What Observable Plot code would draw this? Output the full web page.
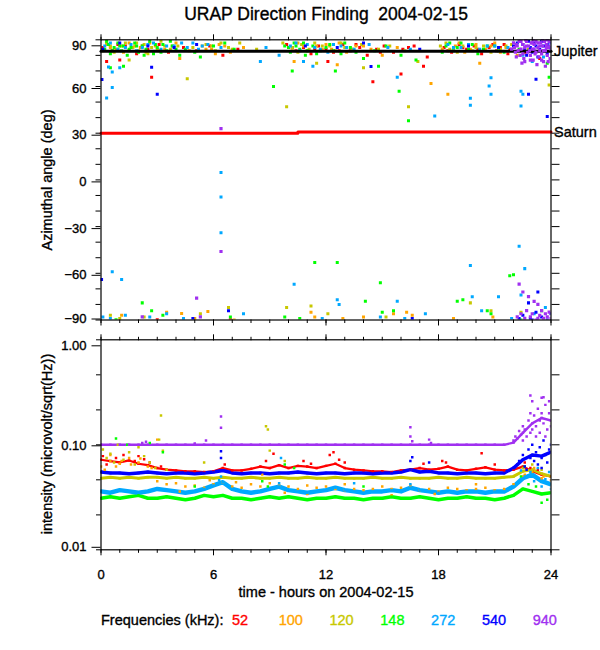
<!DOCTYPE html>
<html><head><meta charset="utf-8">
<script src="https://cdn.jsdelivr.net/npm/d3@7"></script>
<script src="https://cdn.jsdelivr.net/npm/@observablehq/plot@0.6"></script>
<style>
html,body{margin:0;padding:0;background:#fff;}
#wrap{position:relative;width:600px;height:650px;background:#fff;overflow:hidden;}
#wrap svg{position:absolute;left:0;top:0;}
#wrap svg text{stroke:currentColor;stroke-width:0.35px;}
</style></head><body><div id="wrap"></div>
<script>
// ---------- data ----------
const freqs = ["52","100","120","148","272","540","940"];
const freqColors = ["#ff0000","#ffa500","#c8c800","#00ff00","#00a8ff","#0000ff","#a030f0"];

const hours = [0,0.5,1,1.5,2,2.5,3,3.5,4,4.5,5,5.5,6,6.5,7,7.5,8,8.5,9,9.5,10,10.5,11,11.5,12,12.5,13,13.5,14,14.5,15,15.5,16,16.5,17,17.5,18,18.5,19,19.5,20,20.5,21,21.5,22,22.5,23,23.5,24];
const xMajor = [0,6,12,18,24];
const xMinor = [0,1,2,3,4,5,6,7,8,9,10,11,12,13,14,15,16,17,18,19,20,21,22,23,24];
const azMajor = [-90,-60,-30,0,30,60,90];
const azMinor = [-90,-80,-70,-60,-50,-40,-30,-20,-10,0,10,20,30,40,50,60,70,80,90];
const intTicks = [0.01,0.0215,0.0464,0.1,0.215,0.464,1];

// Jupiter / Saturn reference directions
const planets = ["Jupiter","Saturn"];
const jupiterT = [0,24], jupiterA = [82.7,82.7];
const saturnT = [0,10.5,10.5,24], saturnA = [29.9,29.9,30.8,30.8];

// intensity (microvolt/sqrt(Hz)) sampled every half hour
const int52 = [0.072,0.070,0.068,0.071,0.066,0.064,0.060,0.058,0.057,0.056,
 0.056,0.055,0.056,0.060,0.057,0.057,0.059,0.062,0.060,0.064,
 0.060,0.063,0.062,0.060,0.063,0.066,0.060,0.058,0.057,0.056,
 0.056,0.055,0.057,0.058,0.060,0.058,0.059,0.062,0.058,0.057,
 0.059,0.061,0.058,0.057,0.058,0.062,0.056,0.052,0.050];
const int100 = [0.062,0.070,0.066,0.075,0.068,0.062,0.045,0.042,0.043,0.040,
 0.041,0.039,0.042,0.044,0.040,0.039,0.042,0.040,0.043,0.041,
 0.040,0.038,0.041,0.039,0.040,0.038,0.037,0.038,0.037,0.038,
 0.040,0.038,0.039,0.041,0.037,0.038,0.036,0.039,0.038,0.037,
 0.038,0.039,0.037,0.038,0.042,0.050,0.055,0.048,0.046];
const int120 = [0.048,0.049,0.048,0.049,0.048,0.049,0.049,0.048,0.049,0.048,
 0.048,0.049,0.048,0.049,0.048,0.048,0.049,0.048,0.048,0.049,
 0.048,0.048,0.049,0.048,0.048,0.049,0.048,0.048,0.048,0.049,
 0.048,0.048,0.049,0.048,0.048,0.048,0.049,0.048,0.048,0.049,
 0.048,0.048,0.048,0.049,0.050,0.056,0.058,0.053,0.050];
const int148 = [0.031,0.032,0.031,0.032,0.033,0.031,0.031,0.032,0.031,0.030,
 0.031,0.033,0.032,0.033,0.031,0.031,0.030,0.031,0.032,0.031,
 0.032,0.031,0.030,0.031,0.031,0.032,0.031,0.031,0.030,0.031,
 0.031,0.032,0.031,0.031,0.032,0.031,0.030,0.031,0.031,0.032,
 0.031,0.031,0.030,0.031,0.033,0.038,0.036,0.034,0.035];
const int272 = [0.036,0.035,0.037,0.036,0.035,0.036,0.038,0.037,0.036,0.035,
 0.036,0.038,0.041,0.044,0.038,0.036,0.035,0.036,0.038,0.040,
 0.037,0.036,0.035,0.036,0.037,0.039,0.037,0.036,0.035,0.036,
 0.036,0.037,0.036,0.039,0.037,0.036,0.035,0.036,0.035,0.036,
 0.036,0.035,0.036,0.036,0.040,0.048,0.052,0.045,0.042];
const int540 = [0.055,0.054,0.054,0.053,0.054,0.055,0.054,0.053,0.054,0.054,
 0.053,0.054,0.055,0.057,0.054,0.053,0.054,0.054,0.053,0.054,
 0.054,0.055,0.054,0.053,0.054,0.054,0.053,0.054,0.054,0.053,
 0.054,0.054,0.055,0.058,0.055,0.056,0.054,0.054,0.053,0.054,
 0.054,0.053,0.054,0.054,0.060,0.072,0.080,0.078,0.085];
const int940 = [0.100,0.100,0.100,0.100,0.100,0.100,0.100,0.100,0.100,0.100,
 0.100,0.100,0.100,0.100,0.100,0.100,0.100,0.100,0.100,0.100,
 0.100,0.100,0.100,0.100,0.100,0.100,0.100,0.100,0.100,0.100,
 0.100,0.100,0.100,0.100,0.100,0.100,0.100,0.100,0.100,0.100,
 0.100,0.100,0.100,0.100,0.105,0.130,0.160,0.180,0.170];

// extra intensity samples [hour, value]
const sp52 = [[0.1,0.078],[0.3,0.065],[0.8,0.075],[1.2,0.080],[1.8,0.070],[2.0,0.078],[2.3,0.073],[2.6,0.068],[3.2,0.062],[6.6,0.065],[8.8,0.070],[9.2,0.082],[10.8,0.070],[11.2,0.066],[12.2,0.080],[12.4,0.085],[12.7,0.072],[13.0,0.068],[17.2,0.066],[18.2,0.070],[18.4,0.068],[20.3,0.083],[21.0,0.065],[22.6,0.068],[22.9,0.060],[23.3,0.058]];
const sp100 = [[0.2,0.058],[0.5,0.080],[0.8,0.062],[1.1,0.070],[1.6,0.065],[2.1,0.074],[2.7,0.060],[3.0,0.112],[5.8,0.046],[7.2,0.044],[8.6,0.052],[11.0,0.034],[13.0,0.042],[15.5,0.033],[20.0,0.042],[22.6,0.052],[23.1,0.060],[23.6,0.050],[4.2,0.036],[9.8,0.035],[17.8,0.034]];
const sp120 = [[0.1,0.090],[0.3,0.075],[0.5,0.082],[0.7,0.068],[0.9,0.100],[1.2,0.072],[1.5,0.085],[1.8,0.065],[2.0,0.095],[2.3,0.078],[2.6,0.068],[2.9,0.060],[3.1,0.112],[3.2,0.190],[3.3,0.088],[3.5,0.058],[8.8,0.150],[8.9,0.140],[9.0,0.088],[5.5,0.068],[9.8,0.070],[22.5,0.060],[23.0,0.065],[23.5,0.058]];
const sp148 = [[0.8,0.115],[1.4,0.100],[2.6,0.104],[3.3,0.085],[5.0,0.040],[8.6,0.045],[8.9,0.040],[9.8,0.065],[10.3,0.060],[14.0,0.040],[22.4,0.050],[22.8,0.042],[23.2,0.040],[23.5,0.028],[23.8,0.030],[22.6,0.062]];
const sp272 = [[6.3,0.046],[6.4,0.050],[9.5,0.043],[9.6,0.075],[13.5,0.043],[16.5,0.042],[22.4,0.057],[22.6,0.050],[22.9,0.055],[23.1,0.045],[23.3,0.060],[23.5,0.040],[23.7,0.047],[23.9,0.055],[24.0,0.038]];
const sp540 = [[22.0,0.060],[22.2,0.065],[22.3,0.070],[22.5,0.080],[22.6,0.062],[22.8,0.090],[22.9,0.075],[23.0,0.100],[23.1,0.070],[23.2,0.085],[23.3,0.065],[23.4,0.095],[23.5,0.075],[23.6,0.110],[23.7,0.080],[23.8,0.068],[23.9,0.090],[24.0,0.100],[23.5,0.060],[22.7,0.058],[6.4,0.087],[6.4,0.075],[16.5,0.070],[16.6,0.076],[17.5,0.068]];
const sp940 = [[2.2,0.104],[2.4,0.107],[5.0,0.103],[5.6,0.110],[6.4,0.145],[6.4,0.186],[16.5,0.120],[16.5,0.147],[16.6,0.108],[17.5,0.112],[17.6,0.104],
 [22.0,0.110],[22.1,0.120],[22.2,0.115],[22.3,0.135],[22.4,0.125],[22.5,0.150],[22.6,0.140],[22.7,0.120],[22.8,0.170],[22.9,0.200],[23.0,0.260],[23.0,0.140],[23.1,0.190],[23.2,0.150],[23.3,0.220],[23.4,0.130],[23.5,0.280],[23.5,0.200],[23.6,0.160],[23.7,0.240],[23.8,0.140],[23.9,0.200],[24.0,0.150],[22.5,0.110],[23.2,0.120],[23.7,0.120],[22.9,0.130],[23.4,0.170],[23.9,0.260],[22.9,0.295],[23.6,0.284]];

// azimuthal angle samples [hour, degrees]
const az52 = [[0.1,85],[0.6,83],[1.3,86],[1.9,81],[2.5,84],[3.1,87],[3.6,82],[4.4,85],[5.1,83],[5.8,86],[6.5,80],[7.3,84],[9.9,87],[10.4,83],[10.8,85],[11.2,81],[11.6,86],[12.0,84],[12.4,82],[12.9,87],[13.3,83],[13.8,85],[14.2,80],[14.7,84],[15.1,86],[15.6,82],[16.1,84],[16.7,86],[17.4,79],[18.3,85],[18.7,82],[19.1,87],[19.5,84],[19.9,86],[20.3,81],[20.7,85],[21.1,83],[21.5,87],[21.8,84],[22.6,82],[23.4,78],
 [0.9,87],[2.2,86],[10.2,85],[11.4,84],[12.7,83],[13.6,87],[14.9,82],[16.4,85],[18.5,83],[19.3,85],[20.1,84],[20.9,87],[21.3,85],[21.7,81],
 [2.7,66],[14.5,63],[16.0,68],[0.3,76],[1.0,77],[12.1,76],[17.2,73],[3.0,-89.8],[6.9,-89.8]];
const az100 = [[0.3,87],[0.8,84],[1.5,88],[2.1,85],[2.4,82],[2.9,86],[3.4,84],[4.0,88],[4.7,83],[5.4,86],[5.9,84],[6.3,87],[6.9,82],[7.6,85],[10.0,85],[10.5,88],[11.0,83],[11.5,86],[12.3,84],[12.7,88],[13.1,82],[13.6,86],[14.4,84],[15.0,80],[15.8,85],[18.2,84],[18.9,86],[19.4,82],[20.0,87],[20.5,84],[21.0,88],[21.6,85],[22.2,80],
 [0.5,85],[1.2,82],[1.8,86],[2.6,88],[3.1,83],[3.8,86],[5.6,84],[6.1,81],[6.6,86],[10.2,83],[10.8,86],[11.8,84],[12.0,87],[13.4,84],[14.0,86],[18.6,83],[19.1,88],[19.7,84],[20.8,86],[21.3,82],
 [17.6,62],[18.5,55],[10.3,76],[12.6,74],[20.2,75],[4.2,78],
 [1.1,-87],[5.0,-89],[5.7,-84.5],[4.3,-85.8],[7.1,-90],[11.2,-85],[11.4,-88],[12.9,-89],[14.0,-88],[15.6,-86],[16.3,-85],[16.6,-87],[18.8,-89],[20.9,-88],[3.5,-85]];
const az120 = [[0.1,83],[0.5,86],[0.9,84],[1.3,88],[1.7,85],[2.0,83],[2.3,87],[2.7,85],[3.2,89],[3.7,84],[4.1,86],[4.9,85],[5.6,87],[6.1,83],[6.8,85],[7.4,88],[8.3,84],[9.7,88],[10.2,85],[10.7,87],[11.1,84],[11.8,86],[12.5,83],[13.0,85],[13.9,87],[14.8,84],[15.4,86],[16.2,83],[18.1,86],[18.6,84],[19.3,86],[19.8,83],[20.4,86],[21.3,84],[21.9,87],[22.8,84],
 [0.3,88],[0.7,82],[1.1,86],[1.5,83],[1.9,88],[2.5,81],[3.0,84],[3.4,86],[5.9,86],[6.4,88],[7.0,84],[10.5,82],[11.4,88],[12.2,86],[12.8,88],[13.4,84],[18.4,88],[19.0,82],[20.0,85],[20.8,82],[21.6,86],
 [4.6,65],[9.9,47],[16.4,47],[23.9,61],[1.5,77],[11.5,75],[14.0,72],[16.9,76],
 [0.5,-87],[1.0,-89],[2.3,-88],[5.3,-86],[6.8,-82],[9.9,-82],[11.2,-81],[12.1,-86],[15.2,-88],[19.7,-79],[20.8,-84],[22.4,-85]];
const az148 = [[0.2,84],[0.4,87],[0.5,81],[0.7,85],[0.9,88],[1.1,83],[1.2,86],[1.4,80],[1.6,85],[1.8,88],[2.0,82],[2.2,86],[2.4,84],[2.6,89],[2.8,81],[3.0,85],[3.3,87],[3.5,83],[3.8,86],[4.2,80],[4.5,84],[5.0,82],[5.3,79],[6.0,86],[6.6,88],[7.1,84],[9.8,86],[10.1,82],[10.3,88],[10.6,84],[10.9,80],[11.3,86],[11.7,83],[12.2,87],[12.8,81],[13.3,85],[14.0,78],[14.6,83],[15.2,86],[16.0,80],[16.8,77],[18.4,86],[18.8,83],[19.2,88],[19.6,84],[20.1,81],[20.6,86],[21.2,83],[22.3,84],[23.8,75],
 [0.3,89],[0.6,83],[1.0,86],[1.5,84],[1.9,86],[2.3,80],[2.9,87],[3.2,82],[3.7,89],[4.0,84],[10.0,85],[10.4,86],[10.8,88],[11.0,83],[11.5,81],[12.0,85],[12.4,83],[13.0,88],[13.6,82],[18.2,82],[18.6,88],[19.0,85],[19.8,87],[20.4,84],[21.0,86],[21.5,82],
 [0.5,72],[1.2,73],[10.2,70],[12.5,70],[14.8,73],[15.9,57],[23.9,66],[16.4,38],[9.2,60],
 [0.8,-89.8],[2.2,-79],[2.7,-84],[3.3,-87],[6.9,-88],[11.4,-53],[12.6,-53],[14.1,-78],[14.9,-66],[15.0,-85],[15.6,-84],[19.0,-78],[19.3,-77],[20.6,-84],[20.8,-86],[21.8,-61.5],[22.0,-61],[23.5,-84],[22.4,-90],[9.8,-88],[10.6,-89]];
const az272 = [[0.2,86],[0.9,84],[1.6,87],[2.2,85],[2.8,88],[3.5,86],[4.3,88],[4.6,85],[5.2,84],[5.7,87],[6.4,85],[8.8,85],[10.1,86],[10.6,83],[11.0,87],[11.4,85],[12.1,82],[12.8,86],[13.5,84],[14.3,87],[15.3,85],[16.5,84],[18.5,87],[19.2,85],[20.2,84],[21.0,86],[21.7,85],[22.5,80],[23.0,76],[23.6,79],
 [0.5,88],[1.3,85],[1.9,83],[2.5,87],[3.2,84],[3.9,86],[4.9,88],[5.4,86],[10.4,88],[11.7,84],[12.4,87],[13.1,85],[18.8,85],[19.6,87],[20.6,86],
 [0.4,72.6],[0.6,69.3],[0.6,59.3],[0.3,52.6],[1.0,72],[8.5,76],[9.5,80],[10.8,76],[11.3,73],[15.8,66],[19.7,52.5],[19.7,48],[20.8,65.6],[20.7,60.3],[20.8,55],[17.8,41],[22.4,57],[22.5,55],[22.4,47.5],[6.4,4.7],[6.4,-11],[6.4,-34],
 [0.6,-59],[1.1,-64],[0.1,-88],[0.5,-89],[1.3,-87],[2.6,-88],[3.5,-86],[4.4,-89],[7.6,-86],[10.3,-67],[11.8,-89],[12.6,-77],[12.7,-80],[14.9,-88],[15.8,-78],[16.2,-89],[17.3,-86],[19.7,-55],[19.8,-75],[20.3,-84],[21.2,-75],[21.9,-89],[22.3,-42.6],[22.6,-57],[22.4,-74],[23.1,-86],[23.7,-82]];
const az540 = [[0.1,84],[1.0,88],[2.5,86],[3.9,85],[5.1,87],[10.9,86],[12.6,85],[14.0,88],[17.0,84],[19.6,86],[21.2,85],
 [22.0,86],[22.2,88],[22.3,83],[22.5,87],[22.6,84],[22.8,89],[22.9,85],[23.0,82],[23.1,88],[23.2,86],[23.4,84],[23.5,89],[23.6,86],[23.7,83],[23.8,87],[23.9,85],[24.0,88],[22.7,80],[23.3,79],[23.8,81],
 [0.05,64.5],[3.0,55],[2.7,72.4],[14.4,72.8],[22.8,55],[23.8,40.8],[23.2,64.6],
 [0.03,-64],[6.8,-84],[23.3,-72],[22.8,-79],[22.5,-87],[22.9,-89],[23.2,-85],[23.5,-88],[23.8,-90],[24.0,-86],[23.0,-90],[22.3,-89],[16.6,-89],[4.9,-89]];
const az940 = [[21.9,84],[22.0,88],[22.1,82],[22.2,86],[22.3,89],[22.35,80],[22.4,84],[22.5,87],[22.55,78],[22.6,85],[22.7,89],[22.75,82],[22.8,86],[22.9,80],[22.95,88],[23.0,84],[23.05,77],[23.1,87],[23.15,81],[23.2,89],[23.3,85],[23.35,79],[23.4,83],[23.45,88],[23.5,81],[23.55,86],[23.6,76],[23.65,89],[23.7,83],[23.75,87],[23.8,80],[23.85,85],[23.9,89],[23.95,78],[24.0,84],[22.45,75],[23.25,74],[23.7,73],[22.15,79],[23.05,90],[22.65,90],[23.55,90],
 [22.05,85],[22.25,83],[22.5,81],[22.7,86],[22.85,83],[23.0,88],[23.2,82],[23.4,86],[23.6,83],[23.8,90],[23.95,86],[22.4,89],[22.9,77],[23.5,77],[23.85,76],[22.6,76],[23.1,84],[23.3,88],[23.75,85],[22.15,87],
 [6.4,33],[6.4,-46],[5.1,-76],[2.2,-88],[5.3,-88],
 [22.3,-67],[22.5,-72],[22.8,-75],[23.3,-80],[23.1,-78],[22.4,-86],[22.6,-89],[22.7,-84],[22.9,-88],[23.0,-86],[23.2,-90],[23.4,-87],[23.5,-84],[23.6,-89],[23.7,-86],[23.8,-88],[23.9,-85],[24.0,-89],[22.2,-88],[23.3,-89]];

// ---------- tables ----------
const colorOf = Object.fromEntries(freqs.map((f, i) => [f, freqColors[i]]));
const intBy = {"52": int52, "100": int100, "120": int120, "148": int148, "272": int272, "540": int540, "940": int940};
const spBy  = {"52": sp52, "100": sp100, "120": sp120, "148": sp148, "272": sp272, "540": sp540, "940": sp940};
const azBy  = {"52": az52, "100": az100, "120": az120, "148": az148, "272": az272, "540": az540, "940": az940};

const bandRows = freqs.flatMap(f => hours.map((t, j) => ({f, t, v: intBy[f][j], c: colorOf[f]})));
const spRows = freqs.flatMap(f => spBy[f].map(([t, v]) => ({f, t, v, c: colorOf[f]})));
const azRows = freqs.flatMap(f => azBy[f].map(([t, a]) => ({f, t, a, c: colorOf[f]})));
const jupRows = jupiterT.map((t, i) => ({t, a: jupiterA[i]}));
const satRows = saturnT.map((t, i) => ({t, a: saturnA[i]}));
const planetLabels = [
  {name: planets[0], t: jupiterT[jupiterT.length - 1], a: jupiterA[jupiterA.length - 1]},
  {name: planets[1], t: saturnT[saturnT.length - 1], a: saturnA[saturnA.length - 1]}
];

// ---------- styling ----------
const FONT = "'Liberation Sans', Arial, Helvetica, sans-serif";
const lineWidth = {"52": 2.2, "120": 3, "148": 3.5, "272": 4.5, "540": 3.5, "940": 2.4};
const plotStyle = {fontFamily: FONT, fontSize: "13px", background: "transparent", overflow: "visible", color: "black"};
const W = 600, H = 650;
const wrap = document.getElementById("wrap");
const blank = () => "";

const xAxes = (labelBottom) => [
  Plot.axisX({anchor: "top", ticks: xMinor, tickSize: 3.5, tickFormat: blank, fill: "none", label: null}),
  Plot.axisX({anchor: "top", ticks: xMajor, tickSize: 6, tickFormat: blank, fill: "none", label: null}),
  Plot.axisX({anchor: "bottom", ticks: xMinor, tickSize: 3.5, tickFormat: blank, fill: "none", label: null}),
  labelBottom
    ? Plot.axisX({anchor: "bottom", ticks: xMajor, tickSize: 6, tickPadding: 14, label: null, fontSize: 13})
    : Plot.axisX({anchor: "bottom", ticks: xMajor, tickSize: 6, tickFormat: blank, fill: "none", label: null})
];

// ---------- top panel: azimuth ----------
const topPlot = Plot.plot({
  width: W, height: H,
  marginLeft: 100.5, marginRight: 49.5, marginTop: 39.3, marginBottom: 330.5,
  x: {domain: [0, 24]},
  y: {domain: [-90, 90]},
  color: {type: "identity"},
  style: plotStyle,
  marks: [
    Plot.dot(azRows.filter(d => d.f !== "940"), {x: "t", y: "a", fill: "c", symbol: "square", r: 1.7, clip: true}),
    Plot.line(jupRows, {x: "t", y: "a", stroke: "black", strokeWidth: 3}),
    Plot.line(satRows, {x: "t", y: "a", stroke: "#ff0000", strokeWidth: 3}),
    Plot.dot(azRows.filter(d => d.f === "940"), {x: "t", y: "a", fill: "c", symbol: "square", r: 1.8, clip: true}),
    Plot.text(planetLabels, {x: "t", y: "a", text: "name", dx: 3, textAnchor: "start", fontSize: 14.5, fill: "black"}),
    Plot.frame({stroke: "black", strokeWidth: 1.2}),
    Plot.axisY({anchor: "left", ticks: azMinor, tickSize: 5, tickFormat: blank, fill: "none", label: null}),
    Plot.axisY({anchor: "left", ticks: [90], tickSize: 9, tickPadding: 5.5, dy: 6, label: null}),
    Plot.axisY({anchor: "left", ticks: azMajor.filter(v => v !== 90 && v !== -90), tickSize: 9, tickPadding: 5.5, dy: 2, label: null}),
    Plot.axisY({anchor: "left", ticks: [-90], tickSize: 9, tickPadding: 5.5, dy: -1, label: null}),
    Plot.axisY({anchor: "right", ticks: azMinor, tickSize: 8, tickFormat: blank, fill: "none", label: null}),
    ...xAxes(false)
  ]
});
wrap.appendChild(topPlot);

// ---------- bottom panel: intensity ----------
const bottomPlot = Plot.plot({
  width: W, height: H,
  marginLeft: 100.5, marginRight: 49.5, marginTop: 339.3, marginBottom: 100.7,
  x: {domain: [0, 24]},
  y: {type: "log", domain: [0.01, 1]},
  color: {type: "identity"},
  style: plotStyle,
  marks: [
    ...freqs.filter(f => lineWidth[f]).map(f =>
      Plot.line(bandRows.filter(d => d.f === f), {x: "t", y: "v", stroke: colorOf[f], strokeWidth: lineWidth[f], clip: true})),
    ...freqs.map(f => Plot.dot([...bandRows, ...spRows].filter(d => d.f === f),
      {x: "t", y: "v", fill: "c", symbol: "square", r: 1.4, clip: true})),
    Plot.frame({stroke: "black", strokeWidth: 1.2}),
    Plot.axisY({anchor: "left", ticks: intTicks, tickSize: 4.5, tickFormat: blank, fill: "none", label: null}),
    Plot.axisY({anchor: "left", ticks: [1], tickSize: 9, tickPadding: 5.5, dy: 6, tickFormat: d3.format(".2f"), label: null}),
    Plot.axisY({anchor: "left", ticks: [0.1], tickSize: 9, tickPadding: 5.5, dy: 1, tickFormat: d3.format(".2f"), label: null}),
    Plot.axisY({anchor: "left", ticks: [0.01], tickSize: 9, tickPadding: 5.5, dy: -2.5, tickFormat: d3.format(".2f"), label: null}),
    Plot.axisY({anchor: "right", ticks: intTicks, tickSize: 8, tickFormat: blank, fill: "none", label: null}),
    ...xAxes(true)
  ]
});
wrap.appendChild(bottomPlot);

// ---------- titles & legend ----------
const svg = d3.select(wrap).append("svg")
  .attr("width", W).attr("height", H)
  .style("font-family", FONT).style("pointer-events", "none").style("color", "black");

svg.append("text").attr("x", 326).attr("y", 14).attr("text-anchor", "middle")
  .attr("dominant-baseline", "central").attr("font-size", 17.5).attr("fill", "currentColor")
  .attr("xml:space", "preserve").style("white-space", "pre")
  .text("URAP Direction Finding  2004-02-15");

svg.append("text").attr("transform", "translate(47,180) rotate(-90)")
  .attr("text-anchor", "middle").attr("dominant-baseline", "central").attr("font-size", 14.5).attr("fill", "currentColor")
  .text("Azimuthal angle (deg)");

svg.append("text").attr("transform", "translate(47,444) rotate(-90)")
  .attr("text-anchor", "middle").attr("dominant-baseline", "central").attr("font-size", 14.5).attr("fill", "currentColor")
  .text("intensity (microvolt/sqrt(Hz))");

svg.append("text").attr("x", 326).attr("y", 592).attr("text-anchor", "middle")
  .attr("dominant-baseline", "central").attr("font-size", 14.5).attr("fill", "currentColor")
  .text("time - hours on 2004-02-15");

svg.append("text").attr("x", 101).attr("y", 620)
  .attr("dominant-baseline", "central").attr("font-size", 14.5).attr("fill", "currentColor")
  .text("Frequencies (kHz):");

freqs.forEach((f, i) => {
  svg.append("text").attr("x", 240 + i * 50.8).attr("y", 620)
    .attr("text-anchor", "middle").attr("dominant-baseline", "central")
    .attr("font-size", 14.5).style("color", freqColors[i]).attr("fill", "currentColor").text(f);
});
</script></body></html>
